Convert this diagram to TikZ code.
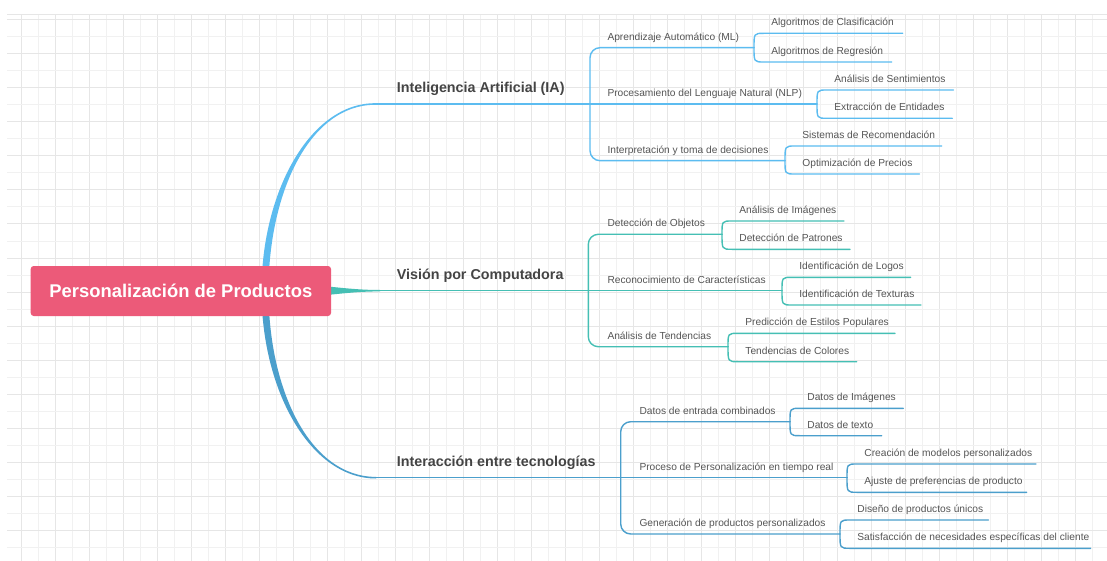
\documentclass[tikz,border=0pt]{standalone}
\usepackage{fontspec}
\setmainfont{Liberation Sans}
\definecolor{iacol}{HTML}{5CBCF0}
\definecolor{vccol}{HTML}{45BFB4}
\definecolor{itcol}{HTML}{4B9FCC}
\definecolor{rootcol}{HTML}{EC5A79}
\definecolor{lblcol}{HTML}{444444}
\definecolor{subcol}{HTML}{555555}
\definecolor{gridmaj}{HTML}{E6E6E6}
\definecolor{gridmin}{HTML}{F1F1F1}
\tikzset{
  branchlbl/.style={font=\fontsize{14.3}{16}\selectfont\bfseries, text=lblcol, inner sep=0pt, anchor=base west},
  sublbl/.style={font=\fontsize{10.2}{12}\selectfont, text=subcol, inner sep=0pt, anchor=base west},
  mmline/.style={line width=1.4pt, line cap=round},
  rootbox/.style={fill=rootcol, rounded corners=3pt, minimum width=300.3pt, minimum height=50pt,
    text=white, font=\fontsize{18.4}{20}\selectfont\bfseries, inner sep=0pt},
  gridmajor/.style={draw=gridmaj, line width=1pt},
  gridminor/.style={draw=gridmin, line width=1pt}
}
% #1 name, #2 colour, #3 bracket x, #4 parent y, #5 child y, #6 line end x, #7 text
\newcommand\mmleaf[7]{%
  \coordinate (#1s) at (#3,#4);
  \coordinate (#1k) at (#3+10,#5);
  \coordinate (#1e) at (#6,#5);
  \draw[mmline,#2] (#1s) .. controls (#3,#5) and (#3,#5) .. (#1k) -- (#1e);
  \node[sublbl] (#1) at (#3+17.2,#5-7.5) {#7};
}
\begin{document}
\begin{tikzpicture}[x=1pt,y=-1pt]
\useasboundingbox (0,0) rectangle (1107,561);
\fill[white] (0,0) rectangle (1107,561);
% grid
\foreach \i in {0,...,63}{%
  \pgfmathsetmacro\xx{21.7+17*\i}%
  \pgfmathtruncatemacro\mm{mod(\i,2)}%
  \ifnum\mm=0 \draw[gridmajor] (\xx,14.5) -- (\xx,561);\else \draw[gridminor] (\xx,14.5) -- (\xx,561);\fi
}
\foreach \j in {0,...,31}{%
  \pgfmathsetmacro\yy{20+17*\j}%
  \pgfmathtruncatemacro\mm{mod(\j,2)}%
  \ifnum\mm=0 \draw[gridmajor] (7.3,\yy) -- (1107,\yy);\else \draw[gridminor] (7.3,\yy) -- (1107,\yy);\fi
}
\draw[gridmajor] (7.3,14.5) -- (1107,14.5);

% main tapered branches
\fill[iacol] (261.5,291) .. controls (261.5,192) and (310,103.2) .. (375,103.2)
  -- (375,104.8) .. controls (310,104.8) and (268.5,192) .. (268.5,291) -- cycle;
\fill[itcol] (261.5,291) .. controls (261.5,390) and (310,478.5) .. (376,478.5)
  -- (376,476.9) .. controls (310,476.9) and (268.5,390) .. (268.5,291) -- cycle;
\fill[vccol] (290,286) -- (331,286.8) .. controls (352,289) and (365,290) .. (380,290)
  -- (380,291.4) .. controls (365,291.4) and (352,292.4) .. (331,294.6) -- (290,295.4) -- cycle;

% root
\node[rootbox] (root) at (180.85,291) {Personalización de Productos};

% ---------- Inteligencia Artificial ----------
\coordinate (ia0) at (375,104);
\coordinate (ia1e) at (754,47.7);
\coordinate (ia2e) at (817,104);
\coordinate (ia3e) at (785,160.7);
\draw[mmline,iacol] (ia0) -- (ia2e);
\draw[mmline,iacol,rounded corners=10pt] (ia1e) -- (590,47.7) -- (590,160.7) -- (ia3e);
\node[branchlbl] (ia) at (396.7,92.3) {Inteligencia Artificial (IA)};
\node[sublbl] (ia1) at (607.3,40.2) {Aprendizaje Automático (ML)};
\node[sublbl] (ia2) at (607.3,96.5) {Procesamiento del Lenguaje Natural (NLP)};
\node[sublbl] (ia3) at (607.3,153.2) {Interpretación y toma de decisiones};
\mmleaf{ia11}{iacol}{754}{47.7}{33.3}{902.7}{Algoritmos de Clasificación}
\mmleaf{ia12}{iacol}{754}{47.7}{62}{891.7}{Algoritmos de Regresión}
\mmleaf{ia21}{iacol}{817}{104}{90}{953.3}{Análisis de Sentimientos}
\mmleaf{ia22}{iacol}{817}{104}{118.3}{952.3}{Extracción de Entidades}
\mmleaf{ia31}{iacol}{785}{160.7}{146}{941.7}{Sistemas de Recomendación}
\mmleaf{ia32}{iacol}{785}{160.7}{174}{919.3}{Optimización de Precios}

% ---------- Visión por Computadora ----------
\coordinate (vc0) at (378,290.7);
\coordinate (vc1e) at (722,234.3);
\coordinate (vc2e) at (782,290.7);
\coordinate (vc3e) at (728,346.7);
\draw[mmline,vccol] (vc0) -- (vc2e);
\draw[mmline,vccol,rounded corners=10pt] (vc1e) -- (588.3,234.3) -- (588.3,346.7) -- (vc3e);
\node[branchlbl] (vc) at (396.7,279) {Visión por Computadora};
\node[sublbl] (vc1) at (607.3,226.8) {Detección de Objetos};
\node[sublbl] (vc2) at (607.3,283.2) {Reconocimiento de Características};
\node[sublbl] (vc3) at (607.3,339.2) {Análisis de Tendencias};
\mmleaf{vc11}{vccol}{722}{234.3}{221}{844}{Análisis de Imágenes}
\mmleaf{vc12}{vccol}{722}{234.3}{249.3}{850}{Detección de Patrones}
\mmleaf{vc21}{vccol}{782}{290.7}{277.3}{910.7}{Identificación de Logos}
\mmleaf{vc22}{vccol}{782}{290.7}{305}{921}{Identificación de Texturas}
\mmleaf{vc31}{vccol}{728}{346.7}{333.3}{895}{Predicción de Estilos Populares}
\mmleaf{vc32}{vccol}{728}{346.7}{361.7}{856.7}{Tendencias de Colores}

% ---------- Interacción entre tecnologías ----------
\coordinate (it0) at (376,477.7);
\coordinate (it1e) at (790,421.7);
\coordinate (it2e) at (847,477.7);
\coordinate (it3e) at (840,534);
\draw[mmline,itcol] (it0) -- (it2e);
\draw[mmline,itcol,rounded corners=10pt] (it1e) -- (620.7,421.7) -- (620.7,534) -- (it3e);
\node[branchlbl] (it) at (396.7,466) {Interacción entre tecnologías};
\node[sublbl] (it1) at (639.3,414.2) {Datos de entrada combinados};
\node[sublbl] (it2) at (639.3,470.2) {Proceso de Personalización en tiempo real};
\node[sublbl] (it3) at (639.3,526.5) {Generación de productos personalizados};
\mmleaf{it11}{itcol}{790}{421.7}{408.3}{903.3}{Datos de Imágenes}
\mmleaf{it12}{itcol}{790}{421.7}{435.7}{881.7}{Datos de texto}
\mmleaf{it21}{itcol}{847}{477.7}{464}{1036}{Creación de modelos personalizados}
\mmleaf{it22}{itcol}{847}{477.7}{492.3}{1026.7}{Ajuste de preferencias de producto}
\mmleaf{it31}{itcol}{840}{534}{520}{988.3}{Diseño de productos únicos}
\mmleaf{it32}{itcol}{840}{534}{548.3}{1090.7}{Satisfacción de necesidades específicas del cliente}
\end{tikzpicture}
\end{document}
